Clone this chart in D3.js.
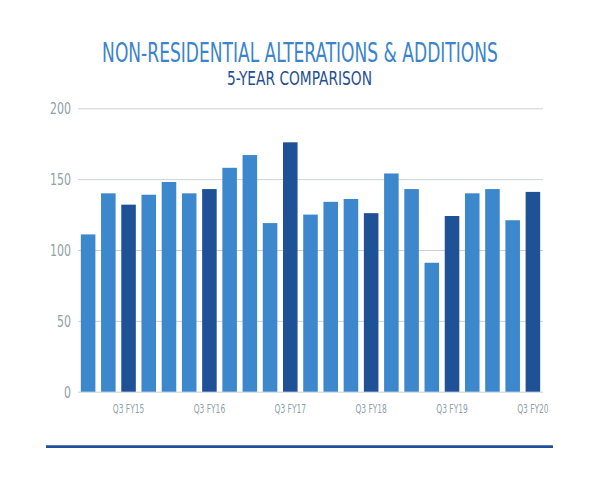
<!DOCTYPE html>
<html><head><meta charset="utf-8">
<script src="https://cdn.jsdelivr.net/npm/d3@7"></script>
<style>body{margin:0;background:#fff}svg{display:block}</style>
</head><body>
<svg id="c" width="600" height="491"></svg>
<script>
const categories = ["Q3 FY14","Q4 FY14","Q3 FY15","Q4 FY15","Q1 FY16","Q2 FY16","Q3 FY16","Q4 FY16","Q1 FY17","Q2 FY17","Q3 FY17","Q4 FY17","Q1 FY18","Q2 FY18","Q3 FY18","Q4 FY18","Q1 FY19","Q2 FY19","Q3 FY19","Q4 FY19","Q1 FY20","Q2 FY20","Q3 FY20"];
const values = [111,140,132,139,148,140,143,158,167,119,176,125,134,136,126,154,143,91,124,140,143,121,141];
const highlighted = ["Q3 FY15","Q3 FY16","Q3 FY17","Q3 FY18","Q3 FY19","Q3 FY20"];
const yTicks = [0,50,100,150,200];
const title = "NON-RESIDENTIAL ALTERATIONS & ADDITIONS";
const subtitle = "5-YEAR COMPARISON";

const font = "'Liberation Sans Narrow','DejaVu Sans Condensed','Liberation Sans',sans-serif";
const svg = d3.select("#c");
const x = d3.scaleBand().domain(categories).range([78,543]).paddingInner(0.28).paddingOuter(0.14);
const y = d3.scaleLinear().domain([0,200]).range([391.7,108.3]);

// horizontally condense a text (anchored at ax, ay) so its width matches target
function condense(node, ax, ay, target) {
  const w = node.getComputedTextLength();
  const k = Math.min(1, target / w);
  d3.select(node).attr("x", 0).attr("y", 0)
    .attr("transform", `translate(${ax},${ay}) scale(${k},1)`);
}

const t1 = svg.append("text").attr("text-anchor","middle")
  .attr("font-family",font).attr("font-size",27).attr("fill","#3b84cc").text(title);
condense(t1.node(), 300, 62.3, 396);
const t2 = svg.append("text").attr("text-anchor","middle")
  .attr("font-family",font).attr("font-size",19.6).attr("fill","#1f4f93").text(subtitle);
condense(t2.node(), 299.5, 85, 145);

const yAxis = d3.axisLeft(y).tickValues(yTicks).tickSize(-(543-78)).tickPadding(7);
const ga = svg.append("g").attr("transform","translate(78,0)").call(yAxis);
ga.select(".domain").remove();
ga.selectAll(".tick line").attr("stroke","#c9d3d6").attr("stroke-width",1);
ga.selectAll(".tick text").attr("font-family",font).attr("font-size",15.6).attr("fill","#8fa1a6")
  .attr("dy",null)
  .each(function(d){ condense(this, -7, 5.6, String(d).length * 7); });

svg.append("g").selectAll("rect").data(values).join("rect")
  .attr("x",(d,i)=>x(categories[i]))
  .attr("width",x.bandwidth())
  .attr("y",d=>y(d))
  .attr("height",d=>y(0)-y(d))
  .attr("fill",(d,i)=>highlighted.includes(categories[i])?"#1f5196":"#3d87cc");

const xAxis = d3.axisBottom(x).tickValues(highlighted).tickSize(0);
const gx = svg.append("g").attr("transform","translate(0,391.7)").call(xAxis);
gx.select(".domain").remove();
gx.selectAll(".tick text").attr("font-family",font).attr("font-size",13).attr("fill","#8fa1a6")
  .attr("dy",null)
  .each(function(){ condense(this, 0, 21, 31.5); });

svg.append("line").attr("x1",46).attr("x2",553).attr("y1",446.7).attr("y2",446.7)
  .attr("stroke","#1f4f9a").attr("stroke-width",2.8);
</script>
</body></html>
